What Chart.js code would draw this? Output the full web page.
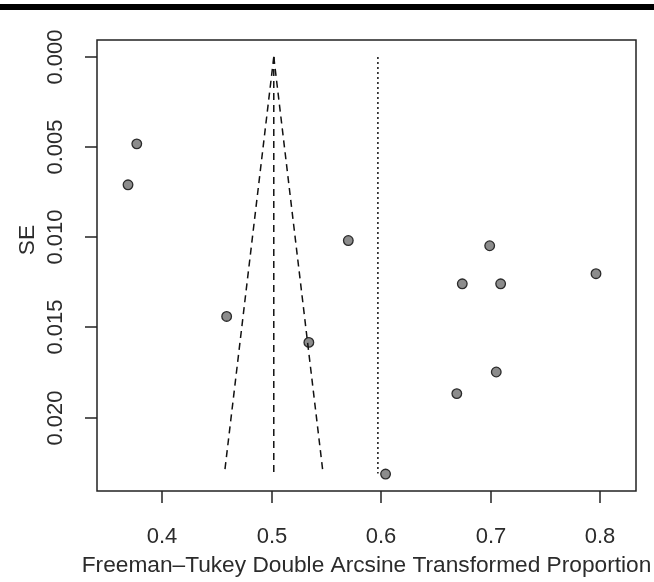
<!DOCTYPE html>
<html lang="en">
<head>
    <meta charset="UTF-8">
    <title>Funnel Plot</title>
    <script src="https://cdn.jsdelivr.net/npm/chart.js"></script>
    <style>
        body { margin: 0; background: #fff; }
        canvas { display: block; }
    </style>
</head>
<body>
    <canvas id="funnel" width="654" height="582"></canvas>

    <script>
        // study estimates (transformed proportion) and their standard errors
        const effects = [0.377, 0.369, 0.570, 0.699, 0.796, 0.674, 0.709, 0.459, 0.534, 0.705, 0.669, 0.604];
        const seValues = [0.00482, 0.00709, 0.01018, 0.01047, 0.01202, 0.01258, 0.01258, 0.01439, 0.01583, 0.01747, 0.01867, 0.02313];

        // funnel (pooled estimate and its limits at the largest SE)
        const pooled = 0.502;
        const funnelLow = 0.457;
        const funnelHigh = 0.547;
        const funnelSE = [0, 0.0231];
        const refLine = 0.597;   // dotted reference line

        const xTicks = [0.4, 0.5, 0.6, 0.7, 0.8];
        const yTicks = [0, 0.005, 0.010, 0.015, 0.020];
        const yTickLabels = ["0.000", "0.005", "0.010", "0.015", "0.020"];

        const FONT = '22px "Liberation Sans", Arial, sans-serif';
        const TITLE_FONT = '22.7px "Liberation Sans", Arial, sans-serif';

        // R-style axes: box, outward ticks, rotated y labels
        const rAxes = {
            id: "rAxes",
            beforeDraw(chart) {
                const c = chart.ctx;
                c.save();
                c.fillStyle = "#000";
                c.fillRect(0, 4, chart.width, 6);
                c.restore();
            },
            afterDraw(chart) {
                const c = chart.ctx;
                const a = chart.chartArea;
                const xs = chart.scales.x, ys = chart.scales.y;
                c.save();
                c.strokeStyle = "#222";
                c.lineWidth = 1.5;
                c.strokeRect(a.left, a.top, a.right - a.left, a.bottom - a.top);

                c.fillStyle = "#2b2b2b";
                c.font = FONT;
                c.textAlign = "center";
                c.textBaseline = "middle";
                xTicks.forEach(v => {
                    const px = Math.round(xs.getPixelForValue(v));
                    c.beginPath();
                    c.moveTo(px, a.bottom);
                    c.lineTo(px, a.bottom + 12);
                    c.stroke();
                    c.fillText(v.toFixed(1), px, 537);
                });
                yTicks.forEach((v, i) => {
                    const py = Math.round(ys.getPixelForValue(v));
                    c.beginPath();
                    c.moveTo(a.left, py);
                    c.lineTo(a.left - 12, py);
                    c.stroke();
                    c.save();
                    c.translate(56, py);
                    c.rotate(-Math.PI / 2);
                    c.fillText(yTickLabels[i], 0, 0);
                    c.restore();
                });

                c.font = TITLE_FONT;
                c.fillText("Freeman\u2013Tukey Double Arcsine Transformed Proportion", (a.left + a.right) / 2, 566);
                c.save();
                c.translate(28, 240);
                c.rotate(-Math.PI / 2);
                c.fillText("SE", 0, 0);
                c.restore();
                c.restore();
            }
        };

        const lineStyle = { showLine: true, pointRadius: 0, borderColor: "#111", borderWidth: 1.5, fill: false };

        new Chart(document.getElementById("funnel"), {
            type: "scatter",
            data: {
                datasets: [
                    Object.assign({
                        data: [{ x: pooled, y: funnelSE[0] }, { x: funnelLow, y: funnelSE[1] }],
                        borderDash: [7, 5]
                    }, lineStyle),
                    Object.assign({
                        data: [{ x: pooled, y: funnelSE[0] }, { x: funnelHigh, y: funnelSE[1] }],
                        borderDash: [7, 5]
                    }, lineStyle),
                    Object.assign({
                        data: [{ x: pooled, y: funnelSE[0] }, { x: pooled, y: funnelSE[1] }],
                        borderDash: [7, 5]
                    }, lineStyle),
                    Object.assign({
                        data: [{ x: refLine, y: funnelSE[0] }, { x: refLine, y: funnelSE[1] }],
                        borderDash: [2, 3]
                    }, lineStyle),
                    {
                        data: effects.map((e, i) => ({ x: e, y: seValues[i] })),
                        pointRadius: 4.8,
                        pointBackgroundColor: "#8c8c8c",
                        pointBorderColor: "#2a2a2a",
                        pointBorderWidth: 1.3
                    }
                ]
            },
            options: {
                responsive: false,
                animation: false,
                devicePixelRatio: 1,
                layout: { padding: { left: 97, top: 40, right: 18, bottom: 91 } },
                plugins: { legend: { display: false }, tooltip: { enabled: false } },
                scales: {
                    x: { type: "linear", display: false, min: 0.3407, max: 0.8325 },
                    y: { type: "linear", display: false, reverse: true, min: -0.00094, max: 0.02407 }
                }
            },
            plugins: [rAxes]
        });
    </script>
</body>
</html>
